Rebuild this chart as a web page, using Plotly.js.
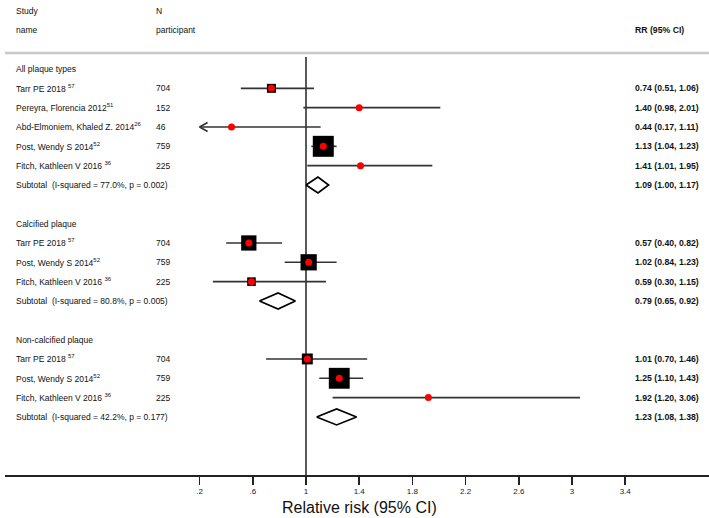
<!DOCTYPE html>
<html>
<head>
<meta charset="utf-8">
<script src="https://cdn.plot.ly/plotly-3.0.1.min.js"></script>
<style>
  html, body { margin: 0; padding: 0; background: #ffffff; }
  #chart { width: 709px; height: 518px; }
</style>
</head>
<body>
<div id="chart"></div>
<script>
// ---------------- data ----------------
const groupNames = ["All plaque types", "Calcified plaque", "Non-calcified plaque"];

const studyNames = [
  "Tarr PE 2018 <sup>57</sup>",
  "Pereyra, Florencia 2012<sup>51</sup>",
  "Abd-Elmoniem, Khaled Z. 2014<sup>26</sup>",
  "Post, Wendy S 2014<sup>52</sup>",
  "Fitch, Kathleen V 2016 <sup>36</sup>",
  "Tarr PE 2018 <sup>57</sup>",
  "Post, Wendy S 2014<sup>52</sup>",
  "Fitch, Kathleen V 2016 <sup>36</sup>",
  "Tarr PE 2018 <sup>57</sup>",
  "Post, Wendy S 2014<sup>52</sup>",
  "Fitch, Kathleen V 2016 <sup>36</sup>"
];
const studyGroup   = [0, 0, 0, 0, 0, 1, 1, 1, 2, 2, 2];
const participants = [704, 152, 46, 759, 225, 704, 759, 225, 704, 759, 225];
const rr     = [0.74, 1.40, 0.44, 1.13, 1.41, 0.57, 1.02, 0.59, 1.01, 1.25, 1.92];
const ciLow  = [0.51, 0.98, 0.17, 1.04, 1.01, 0.40, 0.84, 0.30, 0.70, 1.10, 1.20];
const ciHigh = [1.06, 2.01, 1.11, 1.23, 1.95, 0.82, 1.23, 1.15, 1.46, 1.43, 3.06];
// estimated study weights (%) within each subgroup
const weights = [14.2, 2.8, 1.6, 77.1, 4.4, 40.9, 46.2, 12.9, 20.9, 76.3, 2.8];

const subtotalLabels = [
  "Subtotal&nbsp; (I-squared = 77.0%, p = 0.002)",
  "Subtotal&nbsp; (I-squared = 80.8%, p = 0.005)",
  "Subtotal&nbsp; (I-squared = 42.2%, p = 0.177)"
];
const subRR     = [1.09, 0.79, 1.23];
const subLow    = [1.00, 0.65, 1.08];
const subHigh   = [1.17, 0.92, 1.38];

const tickVals  = [0.2, 0.6, 1, 1.4, 1.8, 2.2, 2.6, 3, 3.4];
const tickText  = [".2", ".6", "1", "1.4", "1.8", "2.2", "2.6", "3", "3.4"];

const headerStudy = ["Study", "name"];
const headerN     = ["N", "participant"];
const headerRR    = "RR (95% CI)";
const xTitle      = "Relative risk (95% CI)";

// ---------------- layout geometry ----------------
const W = 709, H = 518;
const ML = 5, MB = 43;
const plotW = W - ML, plotH = H - MB;
const pxPerUnit = 133;      // pixels per RR unit
const nullPx = 306;         // pixel of RR = 1
const xMin = 1 - (nullPx - ML) / pxPerUnit;
const xMax = 1 + (W - nullPx) / pxPerUnit;
const row0Px = 69, rowH = 19.33;
const yTop = -row0Px / rowH;
const yBot = (plotH - row0Px) / rowH;

function paperX(px) { return (px - ML) / plotW; }
const colName = paperX(14), colN = paperX(154), colRR = paperX(633);

// assign rows
const studyRow = [], groupRow = [], subRow = [];
{
  let r = 0;
  for (let g = 0; g < groupNames.length; g++) {
    groupRow.push(r); r++;
    for (let i = 0; i < studyNames.length; i++) {
      if (studyGroup[i] === g) { studyRow[i] = r; r++; }
    }
    subRow.push(r); r++;
    r++; // blank row
  }
}

const fmt = v => v.toFixed(2);
const nameFont = {family: "Liberation Sans, Arial, sans-serif", size: 8.5, color: "#111111"};
const rrFont = {family: "Liberation Sans, Arial, sans-serif", size: 8.7, color: "#111111"};
const annotations = [];
function addText(x, y, text, bold) {
  annotations.push({
    xref: "paper", yref: "y", x: x, y: y, text: bold ? "<b>" + text + "</b>" : text,
    showarrow: false, xanchor: "left", yanchor: "middle",
    font: bold ? rrFont : nameFont
  });
}

// header
addText(colName, -3, headerStudy[0]);
addText(colName, -2, headerStudy[1]);
addText(colN, -3, headerN[0]);
addText(colN, -2, headerN[1]);
addText(colRR, -2, headerRR, true);

for (let g = 0; g < groupNames.length; g++) {
  addText(colName, groupRow[g], groupNames[g]);
  addText(colName, subRow[g], subtotalLabels[g]);
  addText(colRR, subRow[g], fmt(subRR[g]) + " (" + fmt(subLow[g]) + ", " + fmt(subHigh[g]) + ")", true);
}
for (let i = 0; i < studyNames.length; i++) {
  addText(colName, studyRow[i], studyNames[i]);
  addText(colN, studyRow[i], String(participants[i]));
  addText(colRR, studyRow[i], fmt(rr[i]) + " (" + fmt(ciLow[i]) + ", " + fmt(ciHigh[i]) + ")", true);
}

// axis title
annotations.push({
  xref: "paper", yref: "paper", x: paperX(359), y: -(507 - plotH) / plotH,
  text: xTitle, showarrow: false, xanchor: "center", yanchor: "middle",
  font: {family: "Liberation Sans, Arial, sans-serif", size: 16, color: "#111"}
});

// ---------------- traces ----------------
const traces = [];
const axisMin = tickVals[0];

// CI lines
const ciX = [], ciY = [];
const arrX = [], arrY = [];
const arrDx = 8 / pxPerUnit, arrDy = 4.5 / rowH;
for (let i = 0; i < rr.length; i++) {
  const lo = Math.max(ciLow[i], axisMin);
  ciX.push(lo, ciHigh[i], null);
  ciY.push(studyRow[i], studyRow[i], null);
  if (ciLow[i] < axisMin) {
    arrX.push(lo + arrDx, lo, lo + arrDx, null);
    arrY.push(studyRow[i] - arrDy, studyRow[i], studyRow[i] + arrDy, null);
  }
}
traces.push({x: ciX, y: ciY, mode: "lines", line: {color: "#333333", width: 1.6}, hoverinfo: "skip"});
traces.push({x: arrX, y: arrY, mode: "lines", line: {color: "#333333", width: 1.6}, hoverinfo: "skip"});

// weight boxes
traces.push({
  x: rr, y: studyRow, mode: "markers", opacity: 1,
  marker: {symbol: "square", color: "#000000", opacity: 1,
           size: weights.map(w => 2.39 * Math.sqrt(w)), line: {width: 0}},
  hoverinfo: "skip"
});
// point estimates
traces.push({
  x: rr, y: studyRow, mode: "markers", opacity: 1,
  marker: {symbol: "circle", color: "#ff0000", opacity: 1, size: 7, line: {width: 0}},
  hoverinfo: "skip"
});

// subtotal diamonds
const dh = 8 / rowH;
for (let g = 0; g < subRR.length; g++) {
  traces.push({
    x: [subLow[g], subRR[g], subHigh[g], subRR[g], subLow[g]],
    y: [subRow[g], subRow[g] - dh, subRow[g], subRow[g] + dh, subRow[g]],
    mode: "lines", fill: "toself", fillcolor: "#ffffff",
    line: {color: "#000000", width: 1.7}, hoverinfo: "skip"
  });
}

const layout = {
  width: W, height: H,
  margin: {l: ML, r: 0, t: 0, b: MB},
  paper_bgcolor: "#ffffff", plot_bgcolor: "#ffffff",
  showlegend: false,
  xaxis: {
    range: [xMin, xMax], fixedrange: true,
    tickvals: tickVals, ticktext: tickText,
    ticks: "outside", ticklen: 8, tickwidth: 1.5, tickcolor: "#222",
    showline: true, linecolor: "#222", linewidth: 1.5,
    showgrid: false, zeroline: false,
    tickfont: {family: "Liberation Sans, Arial, sans-serif", size: 8, color: "#222"}
  },
  yaxis: {
    range: [yBot, yTop], visible: false, fixedrange: true,
    showgrid: false, zeroline: false
  },
  shapes: [
    // header separator
    {type: "line", xref: "paper", yref: "y", x0: 0, x1: 1, y0: -0.83, y1: -0.83,
     line: {color: "#c8c8c8", width: 2.5}},
    // null line at RR = 1
    {type: "line", xref: "x", yref: "paper", x0: 1, x1: 1, y0: 0, y1: (plotH - 57) / plotH,
     line: {color: "#222", width: 1.5}, layer: "below"}
  ],
  annotations: annotations
};

Plotly.newPlot("chart", traces, layout, {displayModeBar: false, staticPlot: true});
</script>
</body>
</html>
